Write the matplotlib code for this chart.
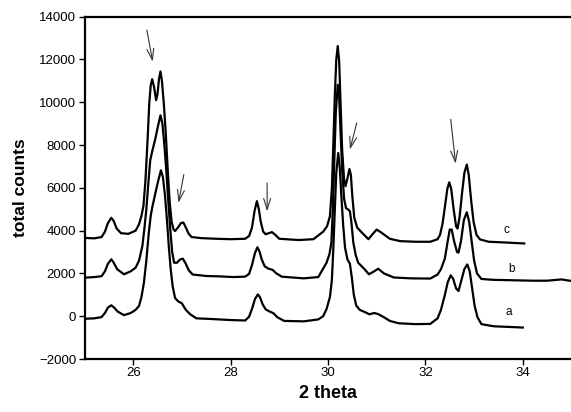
import matplotlib
matplotlib.use("Agg")
import matplotlib.pyplot as plt

plt.rcParams['font.family'] = ['Liberation Sans', 'DejaVu Sans']

# ---- data ----
c_x = [25.00, 25.20, 25.35, 25.42, 25.48, 25.55, 25.60, 25.66, 25.75, 25.90, 26.05, 26.12, 26.17,
       26.21, 26.25, 26.29, 26.33, 26.36, 26.39, 26.43, 26.47, 26.50, 26.53, 26.56, 26.59, 26.63,
       26.67, 26.71, 26.75, 26.79, 26.83, 26.86, 26.92, 26.98, 27.03, 27.08, 27.14, 27.20, 27.40,
       27.70, 28.00, 28.30, 28.38, 28.44, 28.49, 28.54, 28.58, 28.62, 28.67, 28.72, 28.78, 28.85,
       28.92, 29.00, 29.40, 29.70, 29.90, 29.98, 30.04, 30.08, 30.11, 30.14, 30.17, 30.20, 30.23,
       30.26, 30.29, 30.33, 30.36, 30.40, 30.44, 30.47, 30.50, 30.54, 30.60, 30.70, 30.83, 30.92,
       31.00, 31.10, 31.27, 31.48, 31.80, 32.10, 32.25, 32.30, 32.35, 32.40, 32.45, 32.49, 32.53,
       32.58, 32.63, 32.66, 32.70, 32.75, 32.80, 32.85, 32.89, 32.94, 32.99, 33.05, 33.12, 33.30,
       33.60, 34.03]
c_y = [3660, 3640, 3700, 3950, 4350, 4600, 4450, 4100, 3880, 3850, 4000, 4300, 4700,
       5150, 6300, 8000, 9950, 10800, 11080, 10700, 10100, 10400, 11100, 11440, 11000, 9900,
       8500, 6800, 5300, 4400, 4050, 3980, 4150, 4350, 4380, 4150, 3850, 3700, 3650,
       3620, 3600, 3620, 3750, 4150, 4900, 5380, 5000, 4400, 3950, 3830, 3880, 3930,
       3800, 3620, 3560, 3600, 3950, 4200, 4680, 6000, 8100, 10300, 12000, 12630, 11900,
       9800, 7800, 6400, 6080, 6450, 6880, 6600, 5600, 4600, 4140, 3900, 3600, 3850,
       4050, 3900, 3620, 3510, 3480, 3480, 3600, 3800, 4300, 5100, 5950, 6260, 5950,
       5000, 4200, 4100, 4600, 5700, 6700, 7090, 6600, 5400, 4400, 3800, 3590, 3480,
       3450, 3400]

b_x = [25.00, 25.20, 25.35, 25.42, 25.48, 25.55, 25.60, 25.67, 25.81, 25.95, 26.05, 26.12, 26.19,
       26.23, 26.27, 26.31, 26.35, 26.39, 26.45, 26.51, 26.56, 26.60, 26.64, 26.68, 26.72, 26.76,
       26.80, 26.84, 26.90, 26.96, 27.02, 27.08, 27.14, 27.22, 27.50, 27.80, 28.05, 28.30, 28.38,
       28.44, 28.50, 28.55, 28.59, 28.64, 28.70, 28.78, 28.86, 28.94, 29.05, 29.15, 29.50, 29.80,
       29.97, 30.03, 30.07, 30.10, 30.13, 30.16, 30.20, 30.23, 30.26, 30.29, 30.33, 30.37, 30.42,
       30.45, 30.48, 30.52, 30.57, 30.62, 30.75, 30.84, 30.95, 31.03, 31.15, 31.35, 31.70, 32.10,
       32.25, 32.32, 32.40, 32.45, 32.50, 32.54, 32.59, 32.65, 32.68, 32.73, 32.79, 32.85, 32.90,
       32.95, 33.00, 33.06, 33.15, 33.40, 33.80, 34.20, 34.50, 34.80, 34.90, 35.00]
b_y = [1800, 1830, 1870, 2100, 2450, 2660, 2500, 2200, 1960, 2100, 2270, 2600, 3300,
       4100, 5000, 6200, 7300, 7700, 8250, 8900, 9390, 9000, 8000, 6800, 5400, 4100,
       3000, 2500, 2500, 2650, 2690, 2450, 2150, 1950, 1880, 1860, 1830, 1850, 1980,
       2400, 2950, 3220, 3050, 2650, 2330, 2220, 2170, 2000, 1850, 1830, 1770, 1830,
       2500, 2900, 3440, 5000, 7320, 9500, 10820, 10200, 8500, 6900, 5500, 5050, 4980,
       4900, 4400, 3440, 2850, 2500, 2200, 1960, 2100, 2220, 2000, 1810, 1770, 1760,
       1950, 2200, 2700, 3400, 4050, 4050, 3500, 3000, 2970, 3500, 4500, 4860, 4400,
       3500, 2600, 2000, 1740, 1700, 1680, 1660, 1660, 1720, 1680, 1650]

a_x = [25.00, 25.20, 25.35, 25.42, 25.48, 25.55, 25.61, 25.68, 25.81, 25.95, 26.05, 26.12, 26.17,
       26.22, 26.27, 26.32, 26.36, 26.39, 26.45, 26.51, 26.57, 26.61, 26.65, 26.69, 26.73, 26.77,
       26.81, 26.86, 26.92, 27.00, 27.08, 27.17, 27.30, 27.60, 28.00, 28.30, 28.38, 28.44, 28.50,
       28.56, 28.60, 28.66, 28.72, 28.80, 28.88, 28.96, 29.10, 29.50, 29.80, 29.90, 29.97, 30.04,
       30.08, 30.11, 30.14, 30.17, 30.21, 30.24, 30.27, 30.31, 30.35, 30.40, 30.45, 30.49, 30.53,
       30.58, 30.65, 30.75, 30.85, 30.95, 31.03, 31.15, 31.27, 31.45, 31.80, 32.10, 32.25, 32.32,
       32.40, 32.46, 32.52, 32.57, 32.63, 32.68, 32.73, 32.80, 32.86, 32.91, 32.96, 33.01, 33.07,
       33.15, 33.40, 33.70, 34.00]
a_y = [-120, -100, -40, 150, 400, 510, 400, 220, 50, 150, 300, 480, 900,
       1570, 2600, 3900, 4700, 5070, 5700, 6300, 6820, 6500, 5700, 4600, 3300, 2200,
       1400, 850, 700, 600, 300, 90, -100, -130, -180, -200, -20, 350, 800,
       1020, 900, 550, 320, 220, 140, -50, -220, -240, -150, 0, 330, 900,
       1700, 3200, 4990, 6700, 7630, 7000, 5800, 4300, 3200, 2650, 2450, 1800, 1000,
       500, 300, 200, 90, 150, 100, -50, -220, -330, -370, -360, -100, 300,
       1000, 1600, 1910, 1750, 1300, 1180, 1600, 2200, 2420, 2100, 1300, 500, -50,
       -370, -470, -500, -530]

curve_labels = ['c', 'b', 'a']
label_x = [33.67, 33.77, 33.72]
label_y = [4050, 2190, 190]

# arrows: (tail x, tail y, head x, head y)
arrow_tail_x = [26.28, 27.04, 28.75, 30.59, 32.52]
arrow_tail_y = [13380, 6620, 6230, 9030, 9200]
arrow_head_x = [26.40, 26.93, 28.75, 30.45, 32.62]
arrow_head_y = [11900, 5300, 4900, 7790, 7130]

x_ticks = [26, 28, 30, 32, 34]
y_ticks = list(range(-2000, 14001, 2000))

# ---- figure ----
fig = plt.figure(figsize=(5.71, 4.12), dpi=100)
ax = fig.add_axes([84.5 / 571, 1 - 359 / 412, (571.5 - 84.5) / 571, (359 - 16.7) / 412])

for xs, ys in ((a_x, a_y), (b_x, b_y), (c_x, c_y)):
    ax.plot(xs, ys, color='black', lw=1.6, solid_joinstyle='round')

for lab, lx, ly in zip(curve_labels, label_x, label_y):
    ax.text(lx, ly, lab, fontsize=8.5, ha='center', va='center', color='black')

for tx, ty, hx, hy in zip(arrow_tail_x, arrow_tail_y, arrow_head_x, arrow_head_y):
    ax.annotate('', xy=(hx, hy), xytext=(tx, ty),
                arrowprops=dict(arrowstyle='->,head_length=0.8,head_width=0.25',
                                color='#333333', lw=0.8, shrinkA=0, shrinkB=0))

ax.set_xlim(25, 35)
ax.set_ylim(-2000, 14000)
ax.set_xticks(x_ticks)
ax.set_yticks(y_ticks)
ax.tick_params(axis='both', direction='out', length=4, width=1, labelsize=9.5, pad=2)

ax.spines['right'].set_visible(False)
for s in ('left', 'bottom', 'top'):
    ax.spines[s].set_linewidth(1.6)

ax.set_xlabel('2 theta', fontsize=13, fontweight='bold', labelpad=4)
ax.set_ylabel('total counts', fontsize=12.5, fontweight='bold', labelpad=8)

fig.savefig('out.png', dpi=100)
